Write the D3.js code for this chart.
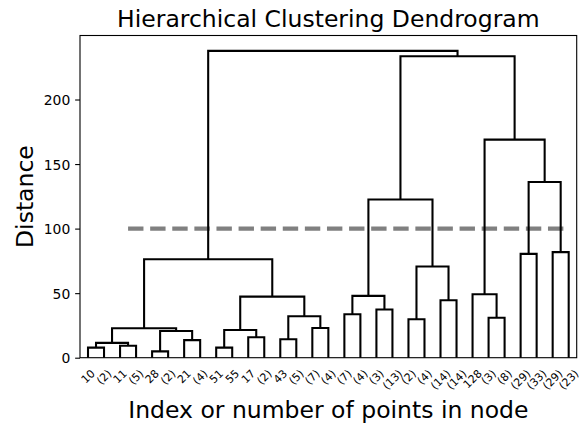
<!DOCTYPE html>
<html>
<head>
<meta charset="utf-8">
<script src="https://cdn.jsdelivr.net/npm/d3@7"></script>
<style>
  html, body { margin: 0; padding: 0; background: #fff; }
  text { font-family: "DejaVu Sans", sans-serif; }
</style>
</head>
<body>
<svg id="chart" width="581" height="428"></svg>
<script>
// ---- Data ----
const leafLabels = ["10","(2)","11","(5)","28","(2)","21","(4)","51","55","17","(2)","43","(5)","(7)","(4)",
  "(7)","(4)","(3)","(13)","(2)","(4)","(14)","(14)","128","(3)","(8)","(29)","(33)","(29)","(23)"];
// merges: node ids start at leafLabels.length (31); children reference leaves (0..30) or earlier nodes
const mergeLeft   = [4, 0, 8, 2, 32, 6, 12, 10, 31, 33, 35, 14, 20, 25, 37, 16, 18, 22, 40, 46, 24, 43, 41, 27, 29, 50, 54, 51, 56, 53];
const mergeRight  = [5, 1, 9, 3, 34, 7, 13, 11, 36, 38, 39, 15, 21, 26, 42, 17, 19, 23, 45, 47, 44, 48, 49, 28, 30, 52, 55, 57, 58, 59];
const mergeHeight = [4.9, 7.8, 7.8, 9.2, 11.5, 13.6, 14.3, 15.8, 20.7, 21.5, 22.8, 23.0, 29.8, 31.0, 32.1, 33.7, 37.3, 44.5, 47.3, 47.9, 49.2, 70.6, 76.3, 80.4, 81.8, 122.6, 136.1, 168.9, 233.5, 237.7];
const yTicks = [0, 50, 100, 150, 200];
const cutHeight = 100;
const cutRange = [30, 305];
const titleText = "Hierarchical Clustering Dendrogram";
const xLabelText = "Index or number of points in node";
const yLabelText = "Distance";

// ---- Layout ----
const svg = d3.select("#chart");
const L = 80, R = 576.7, T = 35.5, B = 357.7;
const nLeaves = leafLabels.length;
const maxH = d3.max(mergeHeight);
const x = d3.scaleLinear().domain([0, nLeaves * 10]).range([L, R]);
const y = d3.scaleLinear().domain([0, maxH * 1.05]).range([B, T]);

// node positions
const nodeX = [], nodeH = [];
leafLabels.forEach((d, i) => { nodeX[i] = 10 * i + 5; nodeH[i] = 0; });
mergeHeight.forEach((h, k) => {
  const id = nLeaves + k;
  nodeX[id] = (nodeX[mergeLeft[k]] + nodeX[mergeRight[k]]) / 2;
  nodeH[id] = h;
});

// cut line
svg.append("line")
  .attr("x1", x(cutRange[0])).attr("x2", x(cutRange[1]))
  .attr("y1", y(cutHeight)).attr("y2", y(cutHeight))
  .attr("stroke", "#808080").attr("stroke-width", 4.17)
  .attr("stroke-dasharray", "15.4,6.7");

// dendrogram links
const g = svg.append("g");
mergeHeight.forEach((h, k) => {
  const a = mergeLeft[k], b = mergeRight[k];
  const p = d3.path();
  p.moveTo(x(nodeX[a]), y(nodeH[a]));
  p.lineTo(x(nodeX[a]), y(h));
  p.lineTo(x(nodeX[b]), y(h));
  p.lineTo(x(nodeX[b]), y(nodeH[b]));
  g.append("path").attr("d", p.toString())
    .attr("fill", "none").attr("stroke", "#000").attr("stroke-width", 2.08)
    .attr("stroke-linejoin", "miter");
});

// frame
svg.append("rect").attr("x", L).attr("y", T).attr("width", R - L).attr("height", B - T)
  .attr("fill", "none").attr("stroke", "#000").attr("stroke-width", 1.1);

// y axis
const yAxis = svg.append("g").attr("transform", `translate(${L},0)`)
  .call(d3.axisLeft(y).tickValues(yTicks).tickSize(4.86).tickPadding(4.86).tickFormat(d3.format("d")));
yAxis.select(".domain").remove();
yAxis.selectAll(".tick line").attr("stroke", "#000").attr("stroke-width", 1.1);
yAxis.selectAll(".tick text").attr("font-size", "13.9px").attr("fill", "#000")
  .attr("font-family", "DejaVu Sans").attr("dy", "0.36em");

// leaf labels rotated 45
const leafFont = 11;
const topY = 367;
const lg = svg.append("g");
leafLabels.forEach((lab, i) => {
  const t = lg.append("text").text(lab)
    .attr("font-size", leafFont + "px").attr("fill", "#000")
    .attr("text-anchor", "middle").attr("dy", "0.346em");
  const w = t.node().getComputedTextLength();
  const h = leafFont * 1.164;
  const half = (w + h) * Math.SQRT1_2 / 2;
  t.attr("transform", `translate(${x(nodeX[i])},${topY + half}) rotate(-45)`);
});

// title and labels
svg.append("text").text(titleText)
  .attr("x", (L + R) / 2).attr("y", 27).attr("text-anchor", "middle")
  .attr("font-size", "23.5px").attr("fill", "#000");
svg.append("text").text(xLabelText)
  .attr("x", (L + R) / 2).attr("y", 418).attr("text-anchor", "middle")
  .attr("font-size", "23.5px").attr("fill", "#000");
svg.append("text").text(yLabelText)
  .attr("transform", `translate(33,${(T + B) / 2}) rotate(-90)`)
  .attr("text-anchor", "middle")
  .attr("font-size", "23.5px").attr("fill", "#000");
</script>
</body>
</html>
